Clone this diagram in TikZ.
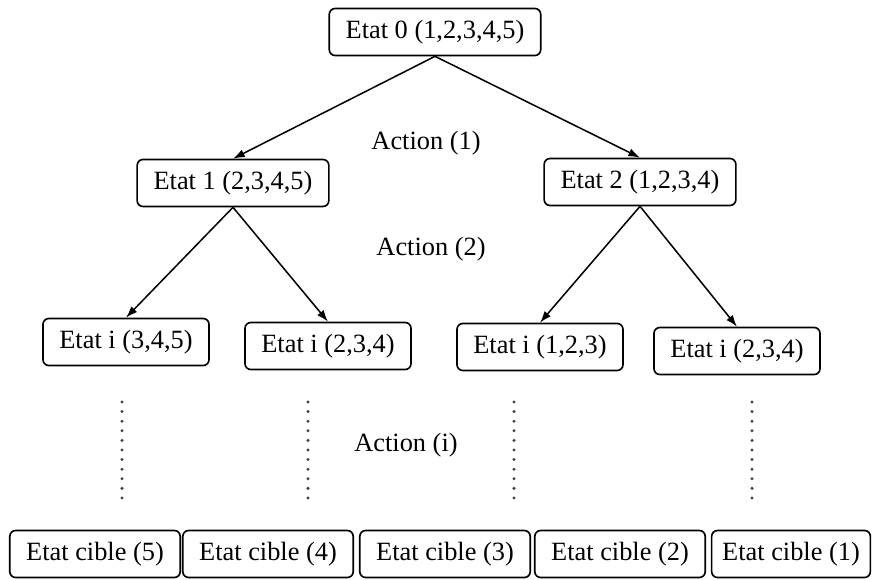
\documentclass[tikz,border=0pt]{standalone}
\usepackage{fontspec}
\setmainfont{Liberation Serif}
\usetikzlibrary{positioning}
\usetikzlibrary{arrows.meta}
\tikzset {
  % rounded state boxes
  state/.style = {draw, rounded corners=5pt, line width=1.4pt, inner xsep=14pt, minimum height=1.41cm, font=\fontsize{22.5}{27}\selectfont},
  % action labels between the levels
  act/.style = {font=\fontsize{22.5}{27}\selectfont},
  % moves from a state to the next one
  move/.style = {-{Latex[length=10pt,width=7pt]}, line width=1.3pt},
  % dotted gap before the targets
  gap/.style = {black!75, line width=2.8pt, line cap=round, dash pattern=on 0pt off 8.19pt},
}

\begin{document}
\begin{tikzpicture}[x=0.03cm, y=-0.03cm]
      \useasboundingbox (0,0) rectangle (873,579);

      \node[state] (e0) at (435, 32) {Etat 0 (1,2,3,4,5)};

      \node[state] (e1) at (233, 183) {Etat 1 (2,3,4,5)};
      \node[state] (e2) at (640, 182) {Etat 2 (1,2,3,4)};

      \node[state] (i1) at (126, 342) {Etat i (3,4,5)};
      \node[state] (i2) at (328, 346) {Etat i (2,3,4)};
      \node[state] (i3) at (540, 347) {Etat i (1,2,3)};
      \node[state] (i4) at (737, 351) {Etat i (2,3,4)};

      \node[state] (c5) at (95, 554) {Etat cible (5)};
      \node[state] (c4) at (268, 554) {Etat cible (4)};
      \node[state] (c3) at (445, 554) {Etat cible (3)};
      \node[state] (c2) at (620, 554) {Etat cible (2)};
      \node[state, inner xsep=9pt] (c1) at (791, 554) {Etat cible (1)};

      \node[act] (a1) at (426, 143) {Action (1)};
      \node[act] (a2) at (431, 249) {Action (2)};
      \node[act] (ai) at (406, 445) {Action (i)};

      \draw [move] (e0.south) -- (e1.north);
      \draw [move] (e0.south) -- (e2.north);

      \draw [move] (e1.south) -- (i1.north);
      \draw [move] (e1.south) -- (i2.north);
      \draw [move] (e2.south) -- (i3.north);
      \draw [move] (e2.south) -- (i4.north);

      \coordinate (g1) at (122, 402);
      \coordinate (h1) at (122, 498);
      \coordinate (g2) at (308, 402);
      \coordinate (h2) at (308, 498);
      \coordinate (g3) at (514, 402);
      \coordinate (h3) at (514, 498);
      \coordinate (g4) at (752, 402);
      \coordinate (h4) at (752, 498);

      \draw [gap] (g1) -- (h1);
      \draw [gap] (g2) -- (h2);
      \draw [gap] (g3) -- (h3);
      \draw [gap] (g4) -- (h4);
    \end{tikzpicture}
\end{document}
